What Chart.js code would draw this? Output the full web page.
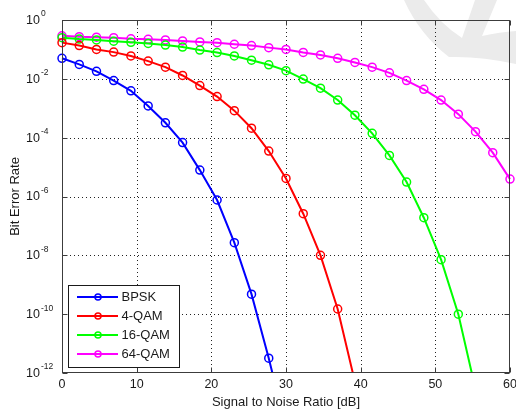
<!DOCTYPE html>
<html>
<head>
<meta charset="utf-8">
<script src="https://cdn.jsdelivr.net/npm/chart.js@4/dist/chart.umd.min.js"></script>
<style>
html,body{margin:0;padding:0;background:#fff;}
#wrap{width:516px;height:412px;}
</style>
</head>
<body>
<div id="wrap"><canvas id="c" width="516" height="412"></canvas></div>
<script>
// ---------- data ----------
const snr = [0, 2.31, 4.62, 6.92, 9.23, 11.54, 13.85, 16.15, 18.46, 20.77, 23.08, 25.38, 27.69, 30,
             32.31, 34.62, 36.92, 39.23, 41.54, 43.85, 46.15, 48.46, 50.77, 53.08, 55.38, 57.69, 60];
const berBPSK = [5.0e-2, 3.1e-2, 1.8e-2, 8.7e-3, 3.9e-3, 1.2e-3, 3.2e-4, 6.8e-5, 7.9e-6, 7.6e-7,
                 2.7e-8, 4.8e-10, 3.2e-12, 1.3e-14];
const ber4QAM = [1.7e-1, 1.35e-1, 1.0e-1, 8.1e-2, 6.0e-2, 4.0e-2, 2.5e-2, 1.3e-2, 5.9e-3, 2.5e-3,
                 8.3e-4, 2.1e-4, 3.5e-5, 4.1e-6, 2.6e-7, 1.0e-8, 1.5e-10, 5.0e-13];
const ber16QAM = [2.5e-1, 2.25e-1, 2.1e-1, 1.9e-1, 1.75e-1, 1.6e-1, 1.4e-1, 1.2e-1, 9.5e-2, 7.8e-2,
                  6.0e-2, 4.3e-2, 3.0e-2, 1.9e-2, 9.8e-3, 4.8e-3, 1.9e-3, 5.8e-4, 1.4e-4, 2.5e-5,
                  3.1e-6, 1.9e-7, 7.1e-9, 1.0e-10, 2.8e-13];
const ber64QAM = [2.9e-1, 2.7e-1, 2.6e-1, 2.5e-1, 2.3e-1, 2.2e-1, 2.1e-1, 1.95e-1, 1.8e-1, 1.7e-1,
                  1.5e-1, 1.35e-1, 1.15e-1, 1.0e-1, 7.9e-2, 6.5e-2, 5.0e-2, 3.6e-2, 2.5e-2, 1.6e-2,
                  8.7e-3, 4.4e-3, 1.9e-3, 6.3e-4, 1.6e-4, 3.1e-5, 3.9e-6];
const seriesNames = ['BPSK', '4-QAM', '16-QAM', '64-QAM'];
const seriesColors = ['#0000ff', '#ff0000', '#00ff00', '#ff00ff'];
const xTickValues = [0, 10, 20, 30, 40, 50, 60];
const yTickExponents = [0, -2, -4, -6, -8, -10, -12];
const xTitle = 'Signal to Noise Ratio [dB]';
const yTitle = 'Bit Error Rate';

const FONT = '"Liberation Sans", Arial, Helvetica, sans-serif';

function pts(arr){ return arr.map((v,i)=>({x:snr[i], y:v})); }
const allSeries = [berBPSK, ber4QAM, ber16QAM, ber64QAM];

const datasets = allSeries.map((arr,i)=>({
  label: seriesNames[i],
  data: pts(arr),
  borderColor: seriesColors[i],
  backgroundColor: 'rgba(0,0,0,0)',
  borderWidth: 2,
  pointStyle: 'circle',
  pointRadius: 4,
  pointBorderWidth: 1.5,
  pointBackgroundColor: 'rgba(0,0,0,0)',
  pointBorderColor: seriesColors[i],
  tension: 0,
  clip: {left: 10, right: 10, top: 10, bottom: 0}
}));

const decor = {
  id: 'decor',
  beforeDraw(chart){
    const ctx = chart.ctx;
    ctx.save();
    ctx.fillStyle = '#ffffff';
    ctx.fillRect(0,0,chart.width,chart.height);
    // faint watermark in the top-right corner
    ctx.fillStyle = '#ebebeb';
    ctx.beginPath();
    ctx.moveTo(404,0); ctx.lineTo(424,0);
    ctx.quadraticCurveTo(440,24,462,38);
    ctx.lineTo(475,0); ctx.lineTo(497,0);
    ctx.lineTo(482,36);
    ctx.quadraticCurveTo(500,32,516,31);
    ctx.lineTo(516,64);
    ctx.quadraticCurveTo(480,56,449,57);
    ctx.quadraticCurveTo(420,35,404,0);
    ctx.closePath();
    ctx.fill();
    ctx.restore();
  },
  beforeDatasetsDraw(chart){
    const ctx = chart.ctx, a = chart.chartArea;
    const xs = chart.scales.x, ys = chart.scales.y;
    ctx.save();
    ctx.strokeStyle = '#222';
    ctx.lineWidth = 1;
    ctx.setLineDash([1,3]);
    xTickValues.forEach(v=>{
      if (v===xs.min || v===xs.max) return;
      const px = Math.round(xs.getPixelForValue(v)) + 0.5;
      ctx.beginPath(); ctx.moveTo(px, a.top); ctx.lineTo(px, a.bottom); ctx.stroke();
    });
    yTickExponents.forEach(e=>{
      const val = Math.pow(10,e);
      if (e===0 || e===-12) return;
      const py = Math.round(ys.getPixelForValue(val)) + 0.5;
      ctx.beginPath(); ctx.moveTo(a.left, py); ctx.lineTo(a.right, py); ctx.stroke();
    });
    ctx.restore();
  },
  afterDatasetsDraw(chart){
    const ctx = chart.ctx, a = chart.chartArea;
    const xs = chart.scales.x, ys = chart.scales.y;
    ctx.save();
    // axes box
    ctx.setLineDash([]);
    ctx.strokeStyle = '#3c3c3c';
    ctx.lineWidth = 1;
    const L = Math.round(a.left)+0.5, R = Math.round(a.right)-0.5, T = Math.round(a.top)+0.5, B = Math.round(a.bottom)-0.5;
    ctx.strokeRect(L, T, R-L, B-T);
    // inner tick marks
    ctx.beginPath();
    xTickValues.forEach(v=>{
      const px = Math.round(xs.getPixelForValue(v)) + 0.5;
      ctx.moveTo(px, B); ctx.lineTo(px, B-5);
      ctx.moveTo(px, T); ctx.lineTo(px, T+5);
    });
    yTickExponents.forEach(e=>{
      const py = Math.round(ys.getPixelForValue(Math.pow(10,e))) + 0.5;
      ctx.moveTo(L, py); ctx.lineTo(L+5, py);
      ctx.moveTo(R, py); ctx.lineTo(R-5, py);
    });
    ctx.stroke();

    // x tick labels
    ctx.fillStyle = '#1a1a1a';
    ctx.font = '12.5px ' + FONT;
    ctx.textAlign = 'center';
    ctx.textBaseline = 'middle';
    xTickValues.forEach(v=>{
      ctx.fillText(String(v), xs.getPixelForValue(v), a.bottom + 12);
    });
    // y tick labels 10^e
    yTickExponents.forEach(e=>{
      const py = ys.getPixelForValue(Math.pow(10,e));
      ctx.font = '12.5px ' + FONT;
      ctx.textAlign = 'right';
      ctx.textBaseline = 'middle';
      ctx.fillText('10', 40, py + 0.5);
      ctx.font = '8.5px ' + FONT;
      ctx.textAlign = 'left';
      ctx.fillText(String(e), 41, py - 6);
    });
    // axis titles
    ctx.font = '13px ' + FONT;
    ctx.textAlign = 'center';
    ctx.textBaseline = 'middle';
    ctx.fillText(xTitle, (a.left + a.right)/2, 402);
    ctx.save();
    ctx.translate(15, (a.top + a.bottom)/2);
    ctx.rotate(-Math.PI/2);
    ctx.fillText(yTitle, 0, 0);
    ctx.restore();

    // legend
    const lx = 68.5, ly = 285.5, lw = 111, lh = 82;
    ctx.fillStyle = '#ffffff';
    ctx.fillRect(lx, ly, lw, lh);
    ctx.strokeStyle = '#1a1a1a';
    ctx.lineWidth = 1;
    ctx.strokeRect(lx, ly, lw, lh);
    const rows = [297, 316, 335, 354];
    seriesNames.forEach((name,i)=>{
      const y = rows[i];
      ctx.strokeStyle = seriesColors[i];
      ctx.lineWidth = 2;
      ctx.beginPath(); ctx.moveTo(77, y); ctx.lineTo(118, y); ctx.stroke();
      ctx.lineWidth = 1.5;
      ctx.beginPath(); ctx.arc(98, y, 3, 0, Math.PI*2); ctx.stroke();
      ctx.fillStyle = '#1a1a1a';
      ctx.font = '13px ' + FONT;
      ctx.textAlign = 'left';
      ctx.textBaseline = 'middle';
      ctx.fillText(name, 121.5, y + 0.5);
    });
    ctx.restore();
  }
};

new Chart(document.getElementById('c'), {
  type: 'line',
  data: { datasets },
  options: {
    responsive: false,
    devicePixelRatio: 1,
    animation: false,
    layout: { padding: { left: 0, right: 6, top: 20, bottom: 0 } },
    plugins: { legend: { display: false }, tooltip: { enabled: false } },
    scales: {
      x: {
        type: 'linear', min: 0, max: 60,
        grid: { display: false }, border: { display: false },
        ticks: { display: false },
        afterFit(s){ s.height = 39; }
      },
      y: {
        type: 'logarithmic', min: 1e-12, max: 1,
        grid: { display: false }, border: { display: false },
        ticks: { display: false },
        afterFit(s){ s.width = 62; }
      }
    }
  },
  plugins: [decor]
});
</script>
</body>
</html>
